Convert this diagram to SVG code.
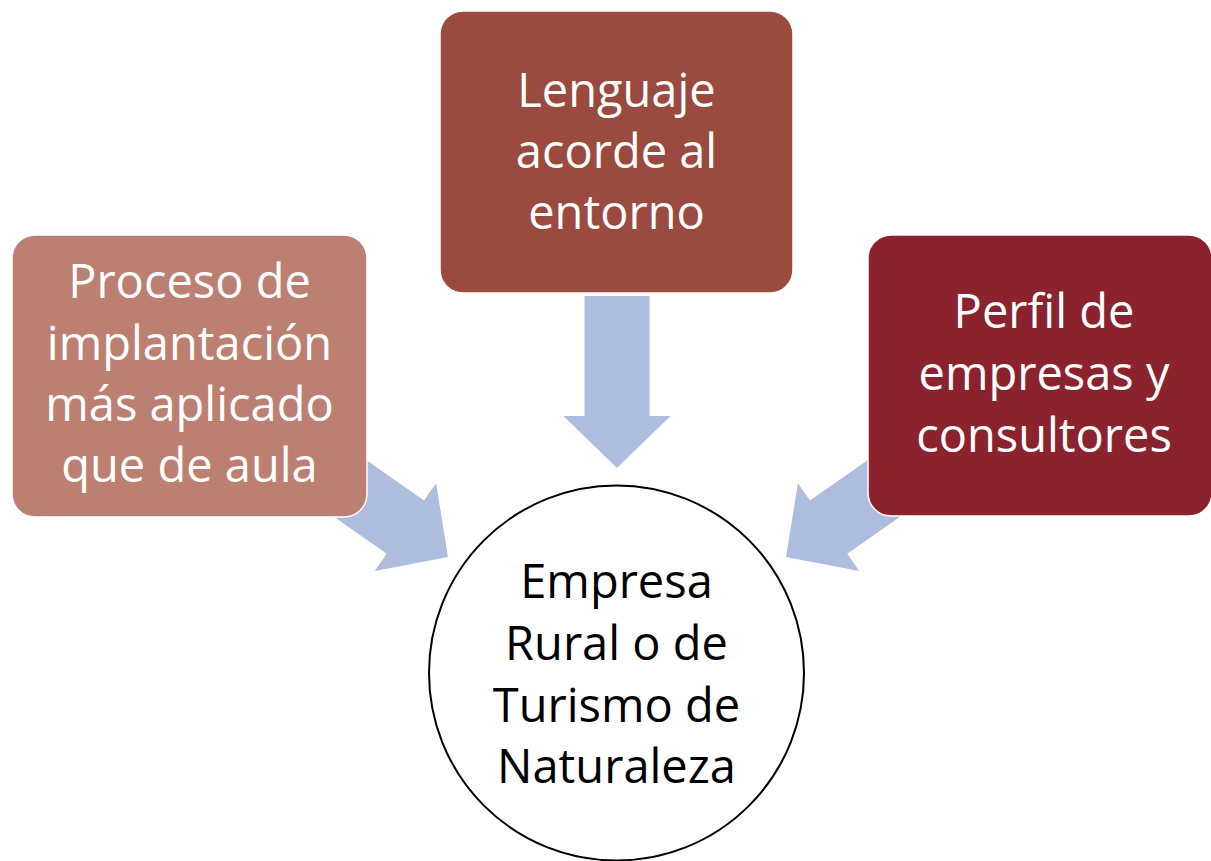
<svg xmlns="http://www.w3.org/2000/svg" width="1211" height="861" viewBox="0 0 1211 861">
  <defs>
    <path id="arrowShape" d="M-172,-32.5 L-52,-32.5 L-52,-53.5 L0,0 L-52,53.5 L-52,32.5 L-172,32.5 Z"/>
  </defs>
  <style>
    .arrow { fill: #AEBCDE; }
    .box { stroke: #FFFFFF; stroke-width: 1.5; }
    .lbl { font-family: "Open Sans", "Noto Sans", sans-serif; font-size: 47px; text-anchor: middle; }
    .white { fill: #FFFFFF; }
    .black { fill: #000000; }
  </style>
  <rect x="0" y="0" width="1211" height="861" fill="#FFFFFF"/>
  <g id="connectors">
    <use href="#arrowShape" class="arrow" transform="translate(617,468) rotate(90)"/>
    <use href="#arrowShape" class="arrow" transform="translate(448,557) rotate(35)"/>
    <use href="#arrowShape" class="arrow" transform="translate(786,557) rotate(145)"/>
  </g>
  <g id="node-lenguaje">
    <rect class="box" x="440" y="11" width="353" height="282" rx="23" ry="23" fill="#9A4A3F"/>
    <text class="lbl white" x="616.5" y="107">Lenguaje</text>
    <text class="lbl white" x="616.5" y="168">acorde al</text>
    <text class="lbl white" x="616.5" y="229">entorno</text>
  </g>
  <g id="node-proceso">
    <rect class="box" x="12" y="235" width="355" height="282" rx="23" ry="23" fill="#BB8072"/>
    <text class="lbl white" x="189.5" y="298">Proceso de</text>
    <text class="lbl white" x="189.5" y="360">implantación</text>
    <text class="lbl white" x="189.5" y="421">más aplicado</text>
    <text class="lbl white" x="189.5" y="482">que de aula</text>
  </g>
  <g id="node-perfil">
    <rect class="box" x="868" y="235" width="344" height="281" rx="23" ry="23" fill="#8B232E"/>
    <text class="lbl white" x="1044" y="328">Perfil de</text>
    <text class="lbl white" x="1044" y="390">empresas y</text>
    <text class="lbl white" x="1044" y="452">consultores</text>
  </g>
  <g id="node-empresa">
    <circle cx="616.5" cy="673" r="187.5" fill="#FFFFFF" stroke="#000000" stroke-width="2"/>
    <text class="lbl black" x="616.5" y="598">Empresa</text>
    <text class="lbl black" x="616.5" y="660">Rural o de</text>
    <text class="lbl black" x="616.5" y="722">Turismo de</text>
    <text class="lbl black" x="616.5" y="783">Naturaleza</text>
  </g>
</svg>
